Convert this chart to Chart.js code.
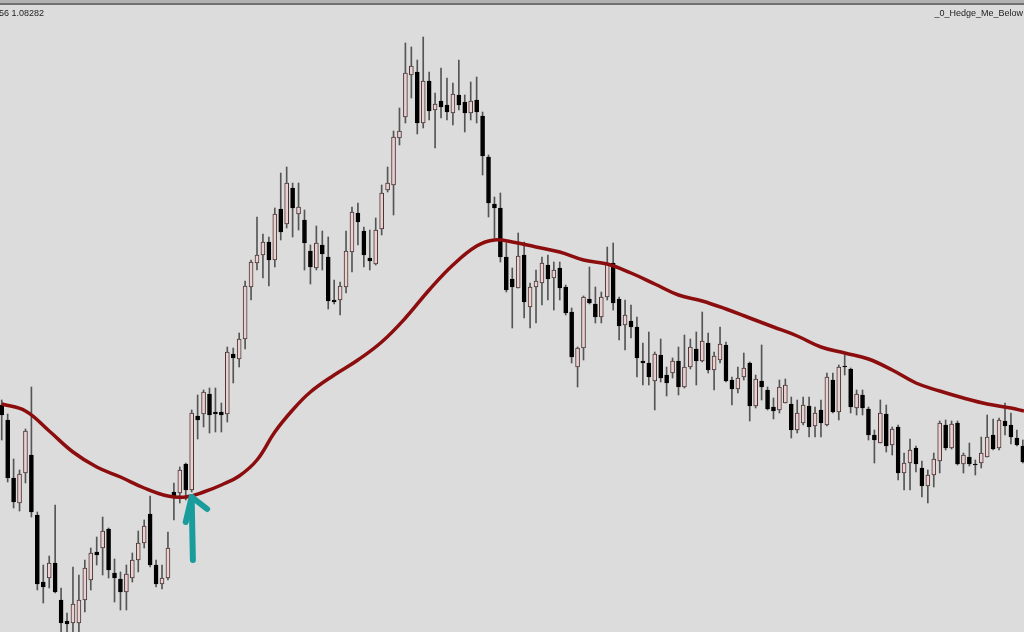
<!DOCTYPE html>
<html>
<head>
<meta charset="utf-8">
<script src="https://cdn.jsdelivr.net/npm/chart.js@4.4.1/dist/chart.umd.min.js"></script>
<style>
  html, body { margin: 0; padding: 0; background: #dcdcdc; overflow: hidden; }
  #wrap { position: relative; width: 1024px; height: 632px; }
</style>
</head>
<body>
<div id="wrap"><canvas id="chart" width="1024" height="632"></canvas></div>
<script>
// ── Data ───────────────────────────────────────────────────────
const symbolInfo    = '56 1.08282';
const indicatorName = '_0_Hedge_Me_Below';

const opens = [
  1.0595,1.0580,1.0522,1.0497,1.0527,1.0545,1.0485,1.0418,1.0422,1.0437,
  1.0400,1.0379,1.0377,1.0377,1.0400,1.0420,1.0448,1.0452,1.0471,1.0427,
  1.0421,1.0408,1.0422,1.0440,1.0457,1.0486,1.0435,1.0416,1.0422,1.0508,
  1.0507,1.0536,1.0510,1.0584,1.0586,1.0606,1.0588,1.0588,1.0586,1.0646,
  1.0641,1.0661,1.0713,1.0737,1.0745,1.0758,1.0740,1.0791,1.0776,1.0812,
  1.0786,1.0780,1.0749,1.0732,1.0755,1.0743,1.0700,1.0700,1.0713,1.0748,
  1.0787,1.0769,1.0742,1.0736,1.0771,1.0810,1.0815,1.0862,1.0883,1.0925,
  1.0928,1.0877,1.0919,1.0890,1.0899,1.0895,1.0887,1.0905,1.0898,1.0887,
  1.0900,1.0884,1.0843,1.0796,1.0792,1.0743,1.0721,1.0712,1.0745,1.0693,
  1.0713,1.0717,1.0735,1.0722,1.0732,1.0713,1.0688,1.0633,1.0652,1.0701,
  1.0696,1.0683,1.0703,1.0737,1.0701,1.0675,1.0679,1.0673,1.0639,1.0637,
  1.0619,1.0645,1.0625,1.0627,1.0639,1.0613,1.0633,1.0651,1.0639,1.0657,
  1.0630,1.0640,1.0655,1.0620,1.0611,1.0623,1.0637,1.0594,1.0619,1.0610,
  1.0593,1.0590,1.0597,1.0596,1.0570,1.0577,1.0594,1.0574,1.0590,1.0575,
  1.0620,1.0588,1.0634,1.0631,1.0592,1.0605,1.0591,1.0565,1.0557,1.0586,
  1.0555,1.0573,1.0527,1.0537,1.0552,1.0532,1.0514,1.0525,1.0539,1.0575,
  1.0552,1.0577,1.0536,1.0543,1.0536,1.0537,1.0543,1.0565,1.0552,1.0579,
  1.0575,1.0562,1.0554
];
const highs = [
  1.0600,1.0586,1.0541,1.0530,1.0571,1.0613,1.0488,1.0435,1.0444,1.0495,
  1.0412,1.0387,1.0433,1.0425,1.0440,1.0452,1.0463,1.0483,1.0472,1.0441,
  1.0428,1.0435,1.0447,1.0469,1.0480,1.0504,1.0440,1.0435,1.0468,1.0517,
  1.0533,1.0537,1.0590,1.0605,1.0610,1.0612,1.0612,1.0597,1.0653,1.0652,
  1.0667,1.0719,1.0740,1.0783,1.0766,1.0763,1.0792,1.0827,1.0833,1.0817,
  1.0817,1.0790,1.0755,1.0774,1.0769,1.0763,1.0720,1.0718,1.0769,1.0793,
  1.0797,1.0773,1.0770,1.0782,1.0815,1.0833,1.0869,1.0892,1.0957,1.0953,
  1.0940,1.0963,1.0928,1.0907,1.0932,1.0922,1.0917,1.0940,1.0905,1.0918,
  1.0923,1.0888,1.0845,1.0803,1.0807,1.0757,1.0732,1.0767,1.0758,1.0717,
  1.0730,1.0743,1.0745,1.0738,1.0738,1.0715,1.0692,1.0653,1.0704,1.0733,
  1.0713,1.0708,1.0753,1.0757,1.0703,1.0700,1.0695,1.0683,1.0657,1.0668,
  1.0648,1.0661,1.0633,1.0642,1.0653,1.0665,1.0661,1.0668,1.0688,1.0667,
  1.0648,1.0673,1.0658,1.0623,1.0633,1.0647,1.0638,1.0625,1.0655,1.0613,
  1.0602,1.0620,1.0621,1.0603,1.0600,1.0603,1.0603,1.0593,1.0600,1.0627,
  1.0627,1.0635,1.0645,1.0632,1.0610,1.0610,1.0593,1.0570,1.0600,1.0595,
  1.0573,1.0575,1.0547,1.0561,1.0554,1.0539,1.0530,1.0547,1.0579,1.0580,
  1.0579,1.0579,1.0547,1.0557,1.0540,1.0563,1.0585,1.0581,1.0582,1.0597,
  1.0587,1.0570,1.0560
];
const lows = [
  1.0560,1.0518,1.0492,1.0489,1.0517,1.0483,1.0410,1.0397,1.0412,1.0407,
  1.0360,1.0360,1.0360,1.0360,1.0388,1.0410,1.0435,1.0425,1.0422,1.0398,
  1.0390,1.0390,1.0418,1.0428,1.0452,1.0433,1.0413,1.0411,1.0420,1.0480,
  1.0497,1.0500,1.0508,1.0561,1.0573,1.0567,1.0568,1.0568,1.0578,1.0617,
  1.0633,1.0651,1.0700,1.0730,1.0722,1.0714,1.0733,1.0760,1.0772,1.0763,
  1.0770,1.0730,1.0716,1.0730,1.0730,1.0691,1.0696,1.0685,1.0707,1.0728,
  1.0755,1.0733,1.0730,1.0735,1.0765,1.0808,1.0785,1.0855,1.0877,1.0902,
  1.0866,1.0872,1.0880,1.0852,1.0882,1.0880,1.0875,1.0890,1.0868,1.0880,
  1.0877,1.0825,1.0783,1.0762,1.0738,1.0708,1.0672,1.0712,1.0682,1.0672,
  1.0677,1.0695,1.0700,1.0690,1.0700,1.0685,1.0637,1.0613,1.0640,1.0696,
  1.0677,1.0677,1.0700,1.0690,1.0660,1.0650,1.0662,1.0623,1.0615,1.0615,
  1.0590,1.0618,1.0604,1.0622,1.0605,1.0612,1.0631,1.0615,1.0638,1.0627,
  1.0610,1.0637,1.0618,1.0595,1.0607,1.0620,1.0579,1.0592,1.0600,1.0590,
  1.0581,1.0587,1.0597,1.0562,1.0567,1.0575,1.0563,1.0563,1.0563,1.0574,
  1.0587,1.0580,1.0625,1.0587,1.0585,1.0585,1.0560,1.0537,1.0557,1.0548,
  1.0545,1.0520,1.0510,1.0510,1.0528,1.0503,1.0497,1.0513,1.0527,1.0550,
  1.0551,1.0535,1.0527,1.0534,1.0525,1.0532,1.0543,1.0550,1.0550,1.0565,
  1.0556,1.0554,1.0537
];
const closes = [
  1.0585,1.0522,1.0498,1.0526,1.0569,1.0488,1.0416,1.0413,1.0437,1.0408,
  1.0377,1.0376,1.0396,1.0400,1.0432,1.0447,1.0445,1.0469,1.0430,1.0422,
  1.0408,1.0426,1.0440,1.0457,1.0474,1.0435,1.0416,1.0422,1.0452,1.0502,
  1.0530,1.0510,1.0587,1.0580,1.0608,1.0585,1.0586,1.0585,1.0648,1.0642,
  1.0661,1.0714,1.0738,1.0745,1.0758,1.0740,1.0786,1.0768,1.0817,1.0792,
  1.0793,1.0757,1.0733,1.0757,1.0746,1.0699,1.0698,1.0714,1.0749,1.0788,
  1.0778,1.0745,1.0739,1.0770,1.0807,1.0817,1.0863,1.0869,1.0927,1.0934,
  1.0877,1.0919,1.0889,1.0896,1.0893,1.0888,1.0906,1.0895,1.0887,1.0899,
  1.0888,1.0844,1.0797,1.0792,1.0743,1.0710,1.0713,1.0744,1.0698,1.0713,
  1.0719,1.0737,1.0721,1.0730,1.0712,1.0687,1.0643,1.0652,1.0703,1.0697,
  1.0683,1.0703,1.0737,1.0697,1.0674,1.0685,1.0673,1.0642,1.0637,1.0623,
  1.0646,1.0622,1.0617,1.0639,1.0613,1.0633,1.0653,1.0639,1.0659,1.0630,
  1.0644,1.0656,1.0619,1.0611,1.0622,1.0632,1.0594,1.0621,1.0613,1.0591,
  1.0589,1.0613,1.0615,1.0570,1.0587,1.0595,1.0573,1.0587,1.0577,1.0623,
  1.0588,1.0633,1.0633,1.0593,1.0606,1.0592,1.0565,1.0560,1.0587,1.0554,
  1.0571,1.0527,1.0537,1.0550,1.0536,1.0514,1.0525,1.0541,1.0577,1.0552,
  1.0576,1.0536,1.0545,1.0536,1.0535,1.0547,1.0563,1.0551,1.0580,1.0574,
  1.0563,1.0555,1.0538
];

// moving average at these bar indices
const maIndex = [0, 4, 8, 12, 16, 20, 24, 28, 31, 34, 37, 40, 43, 46, 49, 52, 56, 60, 64, 68,
                 72, 76, 80, 83, 86, 90, 94, 98, 102, 106, 110, 114, 118, 122, 126, 130, 134, 138,
                 142, 146, 150, 154, 158, 162, 166, 170, 172.2];
const maValue = [1.0596,1.0589,1.0569,1.0548,1.0533,1.0523,1.0512,1.0504,1.0503,1.0508,1.0515,
                 1.0524,1.0540,1.0568,1.0590,1.0608,1.0625,1.0640,1.0658,1.0682,1.0710,1.0735,
                 1.0754,1.0760,1.0758,1.0753,1.0748,1.0740,1.0736,1.0727,1.0716,1.0705,1.0699,
                 1.0691,1.0682,1.0673,1.0664,1.0653,1.0647,1.0641,1.0630,1.0617,1.0609,1.0602,
                 1.0596,1.0592,1.0589];

// hand-drawn arrow (bar index, price)
const arrowShaft = [[32.2, 1.0440], [32.1, 1.0470], [32.0, 1.0503]];
const arrowHead  = [[31.0, 1.0478], [32.0, 1.0503], [34.6, 1.0491]];

// ── Chart ──────────────────────────────────────────────────────
const BULL_FILL = '#ead0d0';
const BULL_LINE = '#4a3434';
const BEAR_FILL = '#000000';

const bodies = opens.map((o, i) => ({ x: i, y: [o, closes[i]] }));
const wicks  = lows.map((l, i) => ({ x: i, y: [l, highs[i]] }));
const isBull = closes.map((c, i) => c > opens[i]);
const maData = maIndex.map((x, i) => ({ x, y: maValue[i] }));

const frame = {
  id: 'frame',
  beforeDraw(chart) {
    const c = chart.ctx;
    c.save();
    c.fillStyle = '#dcdcdc';
    c.fillRect(0, 0, chart.width, chart.height);
    c.restore();
  },
  afterDraw(chart) {
    const { ctx: c, scales } = chart;
    const px = p => [scales.x.getPixelForValue(p[0]), scales.y.getPixelForValue(p[1])];

    c.save();
    c.strokeStyle = '#1a9c9c';
    c.lineWidth   = 6;
    c.lineCap     = 'round';
    c.lineJoin    = 'round';
    [arrowShaft, arrowHead].forEach(path => {
      c.beginPath();
      path.map(px).forEach(([x, y], k) => k ? c.lineTo(x, y) : c.moveTo(x, y));
      c.stroke();
    });

    // window top edge
    c.fillStyle = '#b2b2b2';
    c.fillRect(0, 0, chart.width, 3);
    c.fillStyle = '#707070';
    c.fillRect(0, 3, chart.width, 2);

    c.fillStyle = '#222';
    c.font = '9px "Liberation Sans", Arial, sans-serif';
    c.textBaseline = 'alphabetic';
    c.textAlign = 'left';
    c.fillText(symbolInfo, -1, 16);
    c.textAlign = 'right';
    c.fillText(indicatorName, 1023, 16);
    c.restore();
  }
};

new Chart(document.getElementById('chart').getContext('2d'), {
  type: 'bar',
  data: {
    datasets: [
      {
        type: 'line',
        data: maData,
        borderColor: '#8c0d0d',
        borderWidth: 3.5,
        pointRadius: 0,
        tension: 0.4,
        fill: false,
        order: 0
      },
      {
        data: bodies,
        grouped: false,
        barThickness: 4,
        backgroundColor: isBull.map(b => b ? BULL_FILL : BEAR_FILL),
        borderColor: isBull.map(b => b ? BULL_LINE : BEAR_FILL),
        borderWidth: 1,
        borderSkipped: false,
        order: 1
      },
      {
        data: wicks,
        grouped: false,
        barThickness: 1,
        backgroundColor: '#555555',
        borderWidth: 0,
        order: 2
      }
    ]
  },
  options: {
    responsive: false,
    animation: false,
    layout: { padding: 0 },
    plugins: { legend: { display: false }, tooltip: { enabled: false } },
    scales: {
      x: { type: 'linear', min: -0.29, max: 172.2, offset: false, display: false },
      y: { min: 1.0368, max: 1.1000, display: false }
    }
  },
  plugins: [frame]
});
</script>
</body>
</html>
